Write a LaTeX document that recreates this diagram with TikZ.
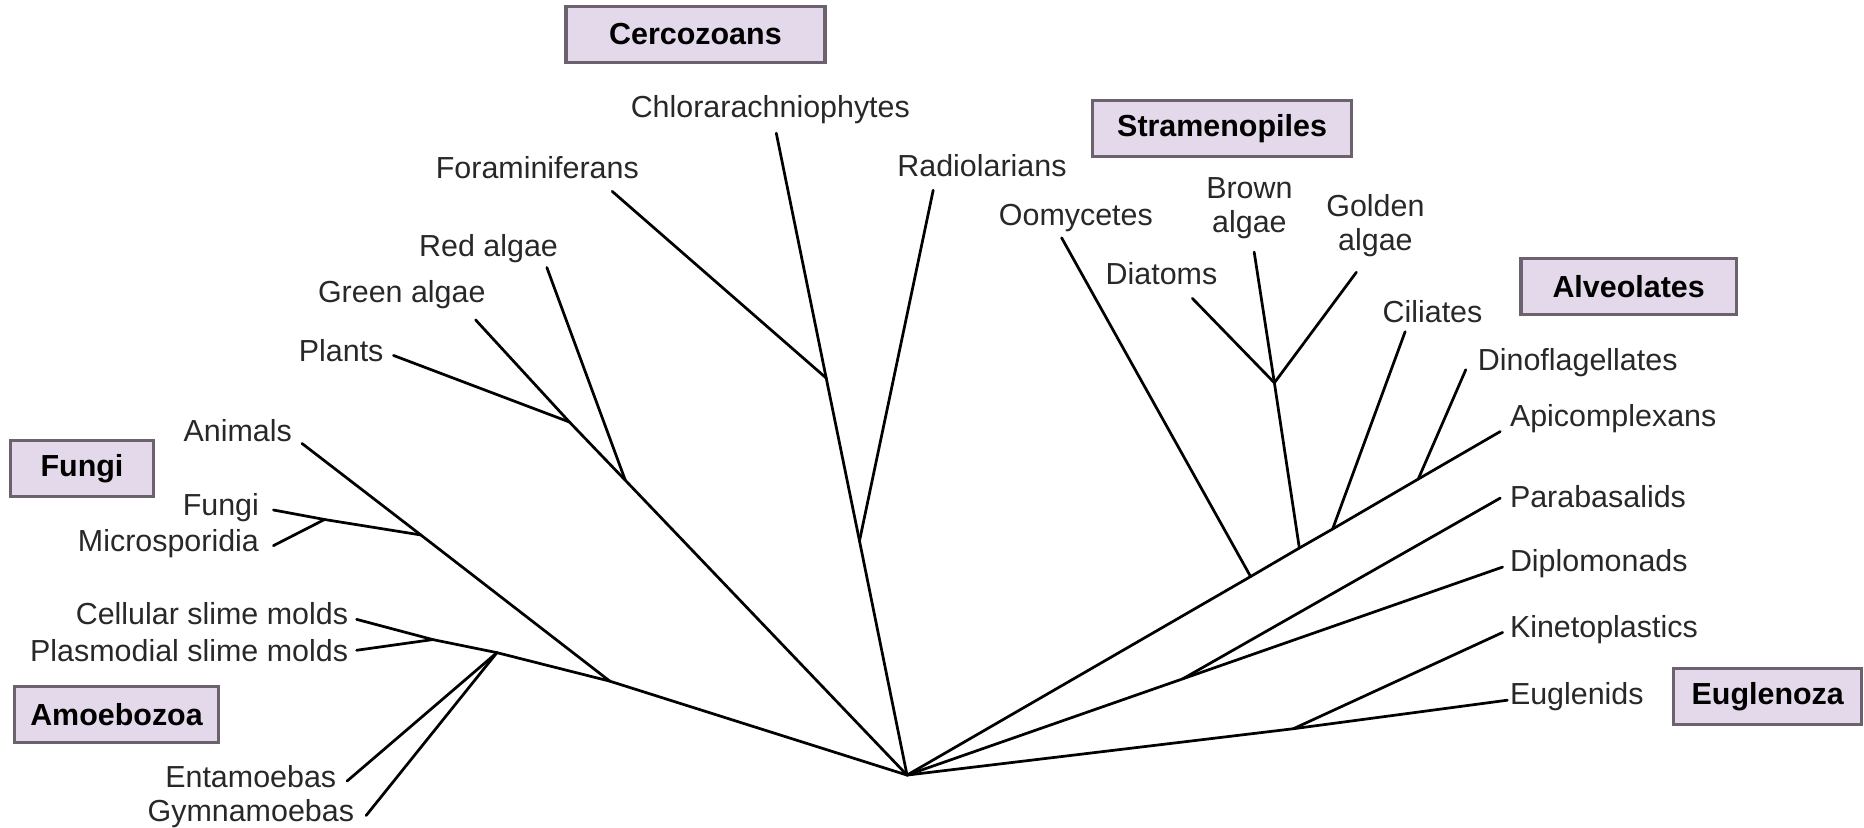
\documentclass[tikz,border=0pt]{standalone}
\usepackage{fontspec}
\setmainfont{Liberation Sans}

\definecolor{boxfill}{RGB}{227,217,234}
\definecolor{boxline}{RGB}{108,98,110}
\definecolor{taxontext}{RGB}{40,40,40}

\tikzset{
	taxon/.style={font=\fontsize{25.6}{29}\selectfont, text=taxontext, inner sep=0pt, align=center},
	group/.style={draw=boxline, line width=2.8pt, fill=boxfill, font=\fontsize{25.6}{29}\selectfont\bfseries, text=black, inner sep=0pt},
	branch/.style={line width=2.3pt, line cap=round, line join=round}
}

\begin{document}
\begin{tikzpicture}[x=1pt, y=-1pt]

	%one unit is one pixel of the small copy, y goes down
	\useasboundingbox (0,0) rectangle (1568,696);

	\def\boxheight{47}

	%inner points of the tree have names of the form nroot, nopi ...
	\foreach \label/\px/\py in {root/763/652, opi/513/573, fun/354/450, fm/273/437, amo/418/549, slime/364/538,
		plone/526/404, pltwo/479/355, cerone/723/455, certwo/695/318,
		oomy/1052/485, stra/1093/461, brown/1072/322, cil/1121/445, dino/1193/403,
		para/995/571, eug/1088/613}
	{
		\coordinate (n\label) at (\px,\py);
	}

	%tips have names of the form tChlor, tForam ..., their texts lChlor, lForam ...
	\foreach \label/\px/\py/\side/\lx/\ly/\txt in {
		Chlor/653/112/center/648/92/Chlorarachniophytes,
		Foram/515/161/center/452/141/Foraminiferans,
		Radio/785/160/center/826/139/Radiolarians,
		Red/460/225/center/411/209/Red algae,
		Green/400/269/center/338/248/Green algae,
		Plants/331/299/center/287/295/Plants,
		Animals/254/373/center/200/362/Animals,
		Fungi/230/429/east/218/427/Fungi,
		Micro/230/459/east/218/457/Microsporidia,
		Cell/300/521/east/293/516/Cellular slime molds,
		Plasmo/300/547/east/293/547/Plasmodial slime molds,
		Ent/292/657/east/283/653/Entamoebas,
		Gym/308/686/east/298/684/Gymnamoebas,
		Oomy/893/200/center/905/183/Oomycetes,
		Diat/1003/251/center/977/230/Diatoms,
		Brown/1055/212/center/1051/175/{Brown\\algae},
		Golden/1141/229/center/1157/190/{Golden\\algae},
		Cil/1182/279/center/1205/262/Ciliates,
		Dino/1233/311/west/1243/305/Dinoflagellates,
		Api/1262/363/west/1270/352/Apicomplexans,
		Para/1262/419/west/1270/418/Parabasalids,
		Diplo/1264/477/west/1270/474/Diplomonads,
		Kin/1264/532/west/1270/530/Kinetoplastics,
		Eug/1268/589/west/1270/586/Euglenids}
	{
		\coordinate (t\label) at (\px,\py);
		\node[taxon, anchor=\side] (l\label) at (\lx,\ly) {\txt};
	}

	%group names in boxes
	\foreach \label/\px/\py/\boxwidth in {Cercozoans/585/29/218, Stramenopiles/1028/108/218, Alveolates/1370/241/181,
		Fungi/69/394/120, Amoebozoa/98/601/172, Euglenoza/1487/586/158}
	{
		\node[group, minimum width=\boxwidth pt, minimum height=\boxheight pt] (g\label) at (\px,\py) {\label};
	}

	%branches
	\foreach \from/\to in {nroot/nopi, nopi/namo, namo/nslime, nslime/tCell, nslime/tPlasmo, namo/tEnt, namo/tGym,
		nopi/nfun, nfun/tAnimals, nfun/nfm, nfm/tFungi, nfm/tMicro,
		nroot/nplone, nplone/tRed, nplone/npltwo, npltwo/tGreen, npltwo/tPlants,
		nroot/ncerone, ncerone/tRadio, ncerone/ncertwo, ncertwo/tForam, ncertwo/tChlor,
		nroot/noomy, noomy/tOomy, noomy/nstra, nstra/nbrown, nbrown/tBrown, nbrown/tDiat, nbrown/tGolden,
		nstra/ncil, ncil/tCil, ncil/ndino, ndino/tDino, ndino/tApi,
		nroot/npara, npara/tPara, npara/tDiplo, nroot/neug, neug/tEug, neug/tKin}
	{
		\draw[branch] (\from) -- (\to);
	}

\end{tikzpicture}
\end{document}
